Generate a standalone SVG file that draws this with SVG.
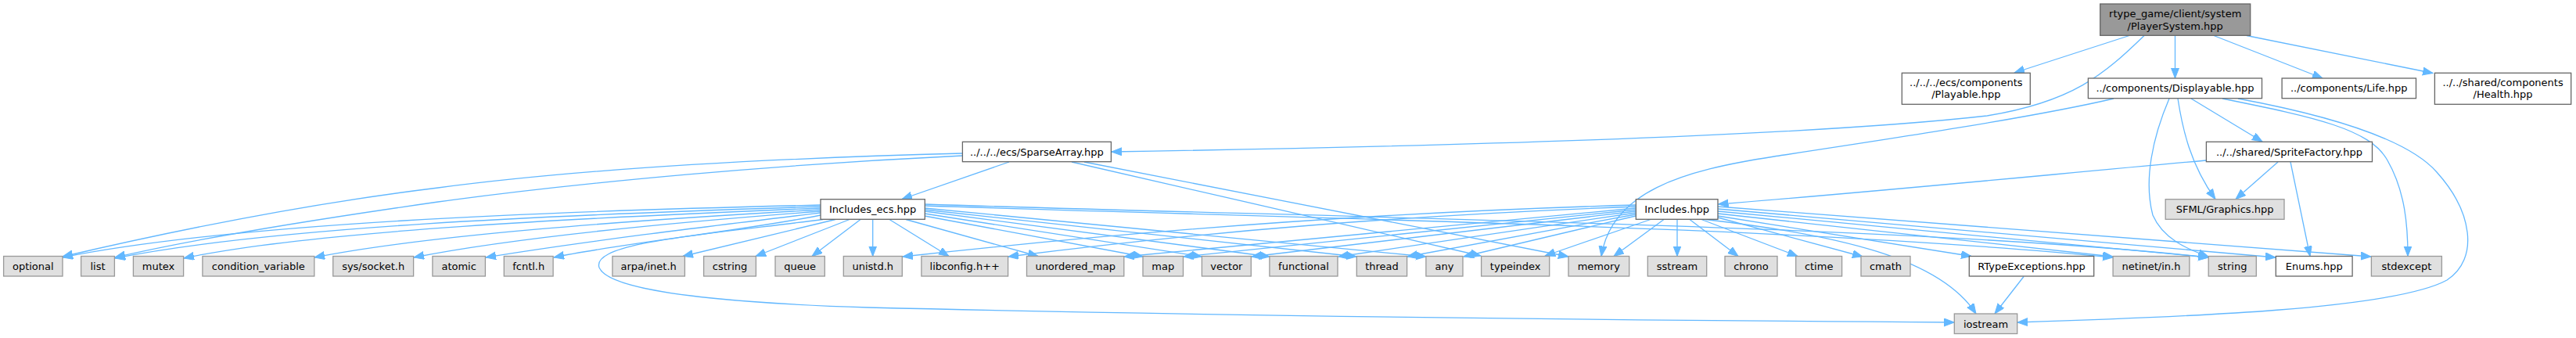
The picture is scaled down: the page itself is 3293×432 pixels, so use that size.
<svg xmlns="http://www.w3.org/2000/svg" width="3293" height="432" viewBox="0 0 3293 432">
<style>
text{font-family:"DejaVu Sans","Liberation Sans",sans-serif;font-size:13px;text-anchor:middle;fill:#000}
.g{fill:#e0e0e0;stroke:#999999;stroke-width:1.3}
.w{fill:#ffffff;stroke:#666666;stroke-width:1.3}
.r{fill:#999999;stroke:#666666;stroke-width:1.3}
#edges path{fill:none;stroke:#63b8ff;stroke-width:1.3;marker-end:url(#a)}
</style>
<defs>
<marker id="a" markerUnits="userSpaceOnUse" markerWidth="14" markerHeight="11" refX="13" refY="5" orient="auto">
<path d="M0,0 L13,5 L0,10 z" fill="#63b8ff" stroke="#63b8ff" stroke-width="1"/>
</marker>
</defs>
<rect width="3293" height="432" fill="#ffffff"/>
<g id="edges">
<path d="M2722,45.5 L2575,93"/>
<path d="M2741,45.5 C2690,95 2650,130 2540,148 C2300,175 1800,188 1421,194"/>
<path d="M2780.5,45.5 L2780.5,100"/>
<path d="M2830,45.5 L2969,100"/>
<path d="M2872,45.5 L3110,93.5"/>
<path d="M2702,126 C2600,150 2400,180 2268,200 C2150,218 2060,245 2047,327.5"/>
<path d="M2773,126 C2752,175 2740,230 2752,275 C2765,305 2795,318 2823,328"/>
<path d="M2784,126 C2790,165 2800,210 2832,254.5"/>
<path d="M2801,126 L2892,181"/>
<path d="M2841,126 C2960,150 3030,165 3052,205 C3075,245 3078,290 3078,327.5"/>
<path d="M2861,126 C2990,150 3080,180 3115,220 C3160,270 3170,330 3128,358 C3060,395 2800,405 2579,412"/>
<path d="M2912,207 L2858,254.5"/>
<path d="M2928,207 L2953,327.5"/>
<path d="M2820,205 C2600,225 2400,245 2196.5,261"/>
<path d="M1290,207 L1153,254.5"/>
<path d="M1230.5,196 C1000,202 750,215 560,240 C380,262 200,300 80,328"/>
<path d="M1230.5,199 C1000,210 750,232 560,258 C420,278 250,305 147,329"/>
<path d="M1370,207 L1893,327"/>
<path d="M1386,207 L2005,328"/>
<path d="M1049,262 C700,270 300,285 80,329"/>
<path d="M1049,264 C700,275 350,290 147,330"/>
<path d="M1049,266 C750,278 400,295 235,330"/>
<path d="M1049,268 C800,282 550,300 402,329"/>
<path d="M1049,270 C850,285 650,305 529,329"/>
<path d="M1049,272 C900,290 750,308 621,329"/>
<path d="M1049,275 C950,295 800,310 708,329"/>
<path d="M1068,280.5 L873,327.5"/>
<path d="M1086,280.5 L966,327.5"/>
<path d="M1100,280.5 L1038,327.5"/>
<path d="M1115.7,280.5 L1115.7,327.5"/>
<path d="M1137,280.5 L1213,327.5"/>
<path d="M1158,280.5 L1327,327.5"/>
<path d="M1182,276 L1461,328"/>
<path d="M1182,273 L1536,328"/>
<path d="M1182,270 L1623,328"/>
<path d="M1182,268 L1734,328"/>
<path d="M1182,266 L1823,328"/>
<path d="M1182,263 C1700,280 2300,290 2701,329"/>
<path d="M1182,261 C1700,278 2450,288 2823,329"/>
<path d="M1052,280.5 C900,300 755,310 766,342 C780,375 950,388 1110,393 C1600,405 2200,410 2498,412"/>
<path d="M2091,262 C1800,270 1500,290 1154,328"/>
<path d="M2091,264 C1800,275 1550,295 1289,328"/>
<path d="M2091,266 L1437,328"/>
<path d="M2091,268 L1513,328"/>
<path d="M2091,270 L1600,328"/>
<path d="M2091,272 L1711,328"/>
<path d="M2091,274 L1799,328"/>
<path d="M2091,276 L1871,328"/>
<path d="M2110,280.5 L1975,327"/>
<path d="M2127,280.5 L2063,327.5"/>
<path d="M2144,280.5 L2144,327.5"/>
<path d="M2160,280.5 L2222,327.5"/>
<path d="M2175,280.5 L2298,327.5"/>
<path d="M2196,278 L2381,328"/>
<path d="M2180,280.5 C2350,300 2480,330 2526,401"/>
<path d="M2196,276 L2520,327.5"/>
<path d="M2196,273 L2701,328"/>
<path d="M2196,270 L2823,329"/>
<path d="M2196,267 L2909,329"/>
<path d="M2196,264 L3031,328"/>
<path d="M2587,353.5 L2550,401"/>
</g>
<g id="n_root"><rect class="r" x="2684.7" y="5" width="192" height="40.3"/><text x="2780.7" y="21.5">rtype_game/client/system</text><text x="2780.7" y="37.5">/PlayerSystem.hpp</text></g>
<g id="n_playable"><rect class="w" x="2431.3" y="93.3" width="164" height="40"/><text x="2513.3" y="109.5">../../../ecs/components</text><text x="2513.3" y="125">/Playable.hpp</text></g>
<g id="n_displayable"><rect class="w" x="2669.4" y="100" width="222.1" height="25.7"/><text x="2780.45" y="117.3">../components/Displayable.hpp</text></g>
<g id="n_life"><rect class="w" x="2917.1" y="100" width="171.4" height="25.7"/><text x="3002.8" y="117.3">../components/Life.hpp</text></g>
<g id="n_health"><rect class="w" x="3112.4" y="93.3" width="174.3" height="40"/><text x="3199.55" y="109.5">../../shared/components</text><text x="3199.55" y="125">/Health.hpp</text></g>
<g id="n_sparsearray"><rect class="w" x="1230.4" y="181.3" width="190" height="25.4"/><text x="1325.4" y="198.5">../../../ecs/SparseArray.hpp</text></g>
<g id="n_spritefactory"><rect class="w" x="2820.4" y="181.3" width="212.1" height="25.4"/><text x="2926.45" y="198.5">../../shared/SpriteFactory.hpp</text></g>
<g id="n_includes_ecs"><rect class="w" x="1049" y="254.7" width="133.3" height="25.6"/><text x="1115.65" y="272">Includes_ecs.hpp</text></g>
<g id="n_includes"><rect class="w" x="2091.3" y="254.7" width="104.7" height="25.6"/><text x="2143.65" y="272">Includes.hpp</text></g>
<g id="n_sfml"><rect class="g" x="2768.2" y="254.7" width="151.8" height="25.6"/><text x="2844.1" y="272">SFML/Graphics.hpp</text></g>
<g id="n_optional"><rect class="g" x="4.6" y="327.5" width="75.4" height="25.5"/><text x="42.3" y="345">optional</text></g>
<g id="n_list"><rect class="g" x="103.6" y="327.5" width="42.8" height="25.5"/><text x="125" y="345">list</text></g>
<g id="n_mutex"><rect class="g" x="170.4" y="327.5" width="64.2" height="25.5"/><text x="202.5" y="345">mutex</text></g>
<g id="n_condvar"><rect class="g" x="258.9" y="327.5" width="142.9" height="25.5"/><text x="330.35" y="345">condition_variable</text></g>
<g id="n_socket"><rect class="g" x="425.7" y="327.5" width="102.9" height="25.5"/><text x="477.15" y="345">sys/socket.h</text></g>
<g id="n_atomic"><rect class="g" x="552.9" y="327.5" width="67.5" height="25.5"/><text x="586.65" y="345">atomic</text></g>
<g id="n_fcntl"><rect class="g" x="644.3" y="327.5" width="62.8" height="25.5"/><text x="675.7" y="345">fcntl.h</text></g>
<g id="n_arpa"><rect class="g" x="782.9" y="327.5" width="92.5" height="25.5"/><text x="829.15" y="345">arpa/inet.h</text></g>
<g id="n_cstring"><rect class="g" x="899.6" y="327.5" width="66.8" height="25.5"/><text x="933" y="345">cstring</text></g>
<g id="n_queue"><rect class="g" x="991" y="327.5" width="63.3" height="25.5"/><text x="1022.65" y="345">queue</text></g>
<g id="n_unistd"><rect class="g" x="1078.3" y="327.5" width="75" height="25.5"/><text x="1115.8" y="345">unistd.h</text></g>
<g id="n_libconfig"><rect class="g" x="1177.9" y="327.5" width="110.7" height="25.5"/><text x="1233.25" y="345">libconfig.h++</text></g>
<g id="n_unordered_map"><rect class="g" x="1312.5" y="327.5" width="124.3" height="25.5"/><text x="1374.65" y="345">unordered_map</text></g>
<g id="n_map"><rect class="g" x="1461" y="327.5" width="51.5" height="25.5"/><text x="1486.75" y="345">map</text></g>
<g id="n_vector"><rect class="g" x="1536.4" y="327.5" width="62.9" height="25.5"/><text x="1567.85" y="345">vector</text></g>
<g id="n_functional"><rect class="g" x="1622.9" y="327.5" width="87.1" height="25.5"/><text x="1666.45" y="345">functional</text></g>
<g id="n_thread"><rect class="g" x="1734.3" y="327.5" width="64.3" height="25.5"/><text x="1766.45" y="345">thread</text></g>
<g id="n_any"><rect class="g" x="1822.9" y="327.5" width="47.1" height="25.5"/><text x="1846.45" y="345">any</text></g>
<g id="n_typeindex"><rect class="g" x="1893.6" y="327.5" width="87.1" height="25.5"/><text x="1937.15" y="345">typeindex</text></g>
<g id="n_memory"><rect class="g" x="2005" y="327.5" width="77.7" height="25.5"/><text x="2043.85" y="345">memory</text></g>
<g id="n_sstream"><rect class="g" x="2106.3" y="327.5" width="75.4" height="25.5"/><text x="2144" y="345">sstream</text></g>
<g id="n_chrono"><rect class="g" x="2205" y="327.5" width="67" height="25.5"/><text x="2238.5" y="345">chrono</text></g>
<g id="n_ctime"><rect class="g" x="2295.7" y="327.5" width="58.9" height="25.5"/><text x="2325.15" y="345">ctime</text></g>
<g id="n_cmath"><rect class="g" x="2379" y="327.5" width="63" height="25.5"/><text x="2410.5" y="345">cmath</text></g>
<g id="n_rtypeexceptions"><rect class="w" x="2517.3" y="327.5" width="159.4" height="25.5"/><text x="2597" y="345">RTypeExceptions.hpp</text></g>
<g id="n_netinet"><rect class="g" x="2701.1" y="327.5" width="97.8" height="25.5"/><text x="2750" y="345">netinet/in.h</text></g>
<g id="n_string"><rect class="g" x="2823.2" y="327.5" width="61.1" height="25.5"/><text x="2853.75" y="345">string</text></g>
<g id="n_enums"><rect class="w" x="2909.3" y="327.5" width="97.8" height="25.5"/><text x="2958.2" y="345">Enums.hpp</text></g>
<g id="n_stdexcept"><rect class="g" x="3031.4" y="327.5" width="90" height="25.5"/><text x="3076.4" y="345">stdexcept</text></g>
<g id="n_iostream"><rect class="g" x="2498.3" y="401" width="80.4" height="25.5"/><text x="2538.5" y="418.5">iostream</text></g>
</svg>
